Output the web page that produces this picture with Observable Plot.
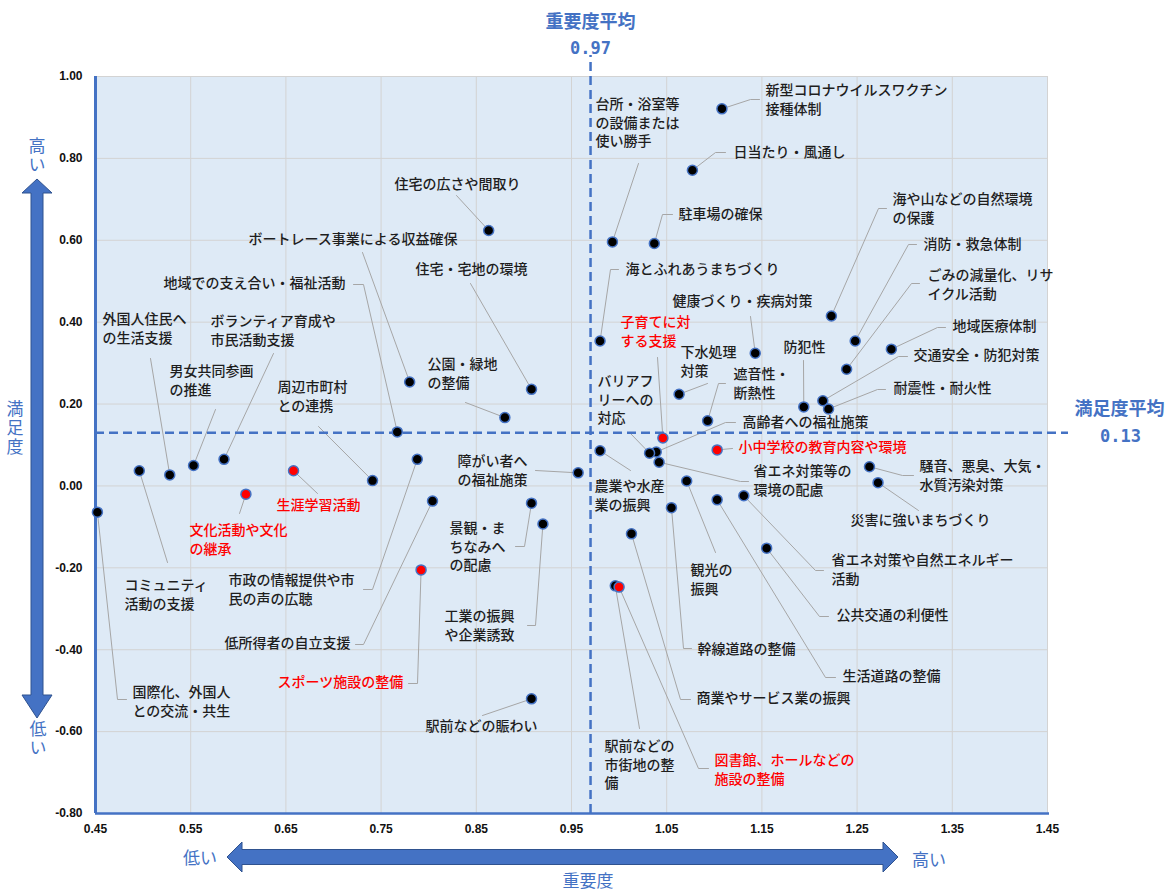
<!DOCTYPE html>
<html>
<head>
<meta charset="utf-8">
<script src="https://cdn.jsdelivr.net/npm/d3@7"></script>
<script src="https://cdn.jsdelivr.net/npm/@observablehq/plot@0.6"></script>
<style>
  body { margin: 0; background: #fff; }
  #chart svg { display: block; }
  g[aria-label="x-axis tick label"] text, g[aria-label="y-axis tick label"] text { font-weight: bold; }
</style>
</head>
<body>
<div id="chart"></div>
<script>
// ---------------- DATA ----------------
const names = [
  "新型コロナウイルスワクチン\n接種体制",
  "日当たり・風通し",
  "台所・浴室等\nの設備または\n使い勝手",
  "駐車場の確保",
  "住宅の広さや間取り",
  "海とふれあうまちづくり",
  "健康づくり・疾病対策",
  "海や山などの自然環境\nの保護",
  "消防・救急体制",
  "ごみの減量化、リサ\nイクル活動",
  "地域医療体制",
  "交通安全・防犯対策",
  "耐震性・耐火性",
  "防犯性",
  "遮音性・\n断熱性",
  "下水処理\n対策",
  "高齢者への福祉施策",
  "小中学校の教育内容や環境",
  "子育てに対\nする支援",
  "バリアフ\nリーへの\n対応",
  "省エネ対策等の\n環境の配慮",
  "騒音、悪臭、大気・\n水質汚染対策",
  "災害に強いまちづくり",
  "省エネ対策や自然エネルギー\n活動",
  "公共交通の利便性",
  "生活道路の整備",
  "農業や水産\n業の振興",
  "観光の\n振興",
  "幹線道路の整備",
  "商業やサービス業の振興",
  "駅前などの\n市街地の整\n備",
  "図書館、ホールなどの\n施設の整備",
  "住宅・宅地の環境",
  "ボートレース事業による収益確保",
  "地域での支え合い・福祉活動",
  "外国人住民へ\nの生活支援",
  "ボランティア育成や\n市民活動支援",
  "男女共同参画\nの推進",
  "周辺市町村\nとの連携",
  "公園・緑地\nの整備",
  "障がい者へ\nの福祉施策",
  "生涯学習活動",
  "文化活動や文化\nの継承",
  "コミュニティ\n活動の支援",
  "市政の情報提供や市\n民の声の広聴",
  "低所得者の自立支援",
  "スポーツ施設の整備",
  "国際化、外国人\nとの交流・共生",
  "景観・ま\nちなみへ\nの配慮",
  "工業の振興\nや企業誘致",
  "駅前などの賑わい"
];
// 重要度 (importance)
const importance = [
  1.108, 1.077, 0.993, 1.037, 0.863, 0.980, 1.143, 1.223, 1.248, 1.239,
  1.286, 1.214, 1.220, 1.194, 1.093, 1.063, 1.039, 1.103, 1.046, 1.032,
  1.042, 1.263, 1.272, 1.131, 1.155, 1.103, 0.980, 1.071, 1.055, 1.013,
  0.996, 1.000, 0.908, 0.780, 0.767, 0.528, 0.585, 0.553, 0.741, 0.880,
  0.957, 0.658, 0.608, 0.496, 0.788, 0.804, 0.792, 0.452, 0.908, 0.920,
  0.908
];
// 満足度 (satisfaction)
const satisfaction = [
  0.921, 0.771, 0.596, 0.592, 0.624, 0.354, 0.324, 0.415, 0.354, 0.285,
  0.334, 0.208, 0.188, 0.193, 0.159, 0.224, 0.083, 0.088, 0.117, 0.080,
  0.058, 0.047, 0.008, -0.024, -0.152, -0.034, 0.086, 0.012, -0.053, -0.117,
  -0.244, -0.247, 0.236, 0.254, 0.132, 0.027, 0.065, 0.050, 0.013, 0.167,
  0.032, 0.037, -0.020, 0.037, 0.065, -0.037, -0.205, -0.064, -0.042, -0.093,
  -0.520
];
// highlighted items (red)
const highlighted = [
  "小中学校の教育内容や環境", "子育てに対\nする支援", "図書館、ホールなどの\n施設の整備",
  "生涯学習活動", "文化活動や文化\nの継承", "スポーツ施設の整備"
];
const avgImportance = 0.97;
const avgSatisfaction = 0.13;
const xTicks = [0.45, 0.55, 0.65, 0.75, 0.85, 0.95, 1.05, 1.15, 1.25, 1.35, 1.45];
const yTicks = [1.0, 0.8, 0.6, 0.4, 0.2, 0.0, -0.2, -0.4, -0.6, -0.8];

// ---------------- LAYOUT (pixels) ----------------
const W = 1167, H = 891;
const M = {top: 76, right: 120, bottom: 78, left: 95};
const xPx = d3.scaleLinear([0.45, 1.45], [M.left, W - M.right]);
const yPx = d3.scaleLinear([-0.8, 1.0], [H - M.bottom, M.top]);
const LH = 18.5;
// [text left x, first line centre y, leader points from label toward the dot]
const labelLayout = [
  [765, 91, [[759, 99], [750, 99]]],
  [733, 153, [[725, 152], [715, 152]]],
  [595, 105, [[638, 163]]],
  [678, 215, [[672, 214], [662, 214]]],
  [394, 185, [[456, 195]]],
  [625, 270, [[618, 269], [610, 269]]],
  [672, 302, [[750, 316]]],
  [892, 200, [[886, 208], [878, 208]]],
  [923, 245, [[916, 244], [908, 244]]],
  [927, 276, [[919, 283], [911, 283]]],
  [952, 327, [[945, 327], [937, 327]]],
  [913, 356, [[907, 356], [898, 356]]],
  [893, 389, [[885, 389], [877, 389]]],
  [783, 348, [[803, 360]]],
  [733, 375, [[725, 383], [718, 383]]],
  [680, 353, [[707, 383]]],
  [742, 423, [[735, 422], [725, 422]]],
  [738, 448, [[732, 448]]],
  [620, 323, [[657, 357]]],
  [597, 382, [[630, 433]]],
  [753, 472, [[748, 481], [740, 481]]],
  [919, 467, [[913, 475], [902, 475]]],
  [850, 521, [[918, 510]]],
  [831, 561, [[823, 570], [815, 570]]],
  [836, 616, [[828, 616], [819, 616]]],
  [842, 677, [[835, 677], [825, 677]]],
  [594, 487, [[630, 470]]],
  [690, 571, [[715, 552]]],
  [697, 650, [[691, 648], [683, 648]]],
  [696, 699, [[690, 699], [680, 699]]],
  [604, 747, [[639, 728]]],
  [714, 761, [[708, 768], [698, 768]]],
  [415, 270, [[470, 283]]],
  [248, 240, [[362, 252]]],
  [163, 284, [[353, 284], [363, 284]]],
  [102, 320, [[150, 358]]],
  [210, 322, [[273, 353]]],
  [169, 372, [[215, 409]]],
  [277, 388, [[318, 426]]],
  [427, 365, [[465, 402]]],
  [457, 462, [[535, 470]]],
  [276, 506, [[317, 493]]],
  [189, 531, [[239, 513]]],
  [124, 586, [[167, 562]]],
  [228, 581, [[363, 589], [372, 589]]],
  [224, 644, [[355, 644], [363, 644]]],
  [277, 683, [[408, 683], [417, 683]]],
  [132, 693, [[126, 699], [117, 699]]],
  [449, 529, [[515, 546], [524, 546]]],
  [444, 617, [[527, 625], [535, 625]]],
  [425, 727, [[482, 715]]]
];
const TEXT_SHIFT = -2; // small vertical correction for CJK glyph centring

// ---------------- BUILD ----------------
const points = names.map((n, i) => ({
  name: n, x: importance[i], y: satisfaction[i], red: highlighted.includes(n)
}));
const labels = points.map((p, i) => {
  const [tx, ty] = labelLayout[i];
  const n = p.name.split("\n").length;
  return {text: p.name, x: xPx.invert(tx), y: yPx.invert(ty + TEXT_SHIFT + (n - 1) * LH / 2), red: p.red};
});
const leaders = [];
points.forEach((p, i) => {
  labelLayout[i][2].forEach(([lx, ly]) => leaders.push({i, x: xPx.invert(lx), y: yPx.invert(ly)}));
  leaders.push({i, x: p.x, y: p.y});
});

const BLUE = "#4472C4";
const FONT = "'Noto Sans CJK JP', 'Noto Sans', sans-serif";
const MONO = "'DejaVu Sans Mono', monospace";

const plot = Plot.plot({
  width: W, height: H,
  marginTop: M.top, marginRight: M.right, marginBottom: M.bottom, marginLeft: M.left,
  x: {domain: [0.45, 1.45]},
  y: {domain: [-0.8, 1.0]},
  style: {fontFamily: FONT, fontSize: "14px", color: "#222", background: "#fff"},
  marks: [
    Plot.frame({fill: "#DEEAF6", stroke: null}),
    Plot.gridX(xTicks, {stroke: "#D3D3D3", strokeOpacity: 1, strokeWidth: 1}),
    Plot.gridY(yTicks, {stroke: "#D3D3D3", strokeOpacity: 1, strokeWidth: 1}),
    Plot.frame({stroke: "#D3D3D3", strokeWidth: 1}),
    Plot.ruleX([0.45], {stroke: BLUE, strokeWidth: 3}),
    Plot.ruleY([-0.8], {x1: 0.45, x2: xPx.invert(1049), stroke: BLUE, strokeWidth: 2.5}),
    Plot.line(leaders, {x: "x", y: "y", z: "i", stroke: "#A6A6A6", strokeWidth: 1, curve: "linear"}),
    Plot.ruleX([avgImportance], {y1: -0.8, y2: yPx.invert(55), stroke: BLUE, strokeWidth: 2.5, strokeDasharray: "9,5"}),
    Plot.ruleY([avgSatisfaction], {x1: 0.45, x2: xPx.invert(1068), stroke: BLUE, strokeWidth: 2.5, strokeDasharray: "9,5"}),
    Plot.dot(points, {x: "x", y: "y", r: 5, fill: d => d.red ? "#FF0000" : "#000000", stroke: BLUE, strokeWidth: 1.5}),
    Plot.text(labels, {x: "x", y: "y", text: "text", textAnchor: "start", lineAnchor: "middle",
      lineHeight: LH / 14, fontSize: 14, fontWeight: 500, fill: d => d.red ? "#FF0000" : "#1E1E1E"}),
    Plot.axisX(xTicks, {tickSize: 0, tickPadding: 11, tickFormat: d => d.toFixed(2), label: null,
      fontSize: 12, fontFamily: "'Liberation Sans', sans-serif", fill: "#111"}),
    Plot.axisY(yTicks, {tickSize: 0, tickPadding: 13, tickFormat: d => d.toFixed(2), label: null,
      fontSize: 12, fontFamily: "'Liberation Sans', sans-serif", fill: "#111"}),
    Plot.text(["重要度平均"], {x: [avgImportance], frameAnchor: "top", dy: -61, fontSize: 18, fontWeight: "bold", fill: BLUE}),
    Plot.text(["0.97"], {x: [avgImportance], frameAnchor: "top", dy: -35, fontSize: 17, fontWeight: "bold", fill: BLUE, fontFamily: MONO, letterSpacing: "-0.5px"}),
    Plot.text(["満足度平均"], {y: [avgSatisfaction], frameAnchor: "right", textAnchor: "middle", dx: 72, dy: -23, fontSize: 18, fontWeight: "bold", fill: BLUE}),
    Plot.text(["0.13"], {y: [avgSatisfaction], frameAnchor: "right", textAnchor: "middle", dx: 73, dy: 4, fontSize: 17, fontWeight: "bold", fill: BLUE, fontFamily: MONO, letterSpacing: "-0.5px"})
  ]
});

// ---------------- DECORATIONS (arrows & axis words) ----------------
const svg = d3.select(plot);
const deco = svg.append("g").attr("aria-label", "axis arrows");
deco.append("path")
  .attr("d", "M37,179 L52,193 L43,193 L43,695 L52,695 L37,718 L22,695 L31,695 L31,193 L22,193 Z")
  .attr("fill", BLUE).attr("stroke", "#2F528F").attr("stroke-width", 1);
deco.append("path")
  .attr("d", "M227,857 L242,842 L242,849.5 L883,849.5 L883,842 L898,857 L883,872 L883,864.5 L242,864.5 L242,872 Z")
  .attr("fill", BLUE).attr("stroke", "#2F528F").attr("stroke-width", 1);
// vertical words (one text element each, written top-to-bottom)
const vwords = [["高い", 37, 156], ["満足度", 15, 429], ["低い", 38, 739]];
deco.selectAll("text.v").data(vwords).join("text")
  .attr("class", "v")
  .attr("x", d => d[1]).attr("y", d => d[2])
  .attr("text-anchor", "middle")
  .style("writing-mode", "vertical-rl")
  .attr("letter-spacing", 2)
  .attr("font-family", FONT).attr("font-size", 17).attr("fill", BLUE)
  .text(d => d[0]);
const hwords = [["低い", 200, 856], ["高い", 929, 858], ["重要度", 588, 879]];
deco.selectAll("text.h").data(hwords).join("text")
  .attr("class", "h")
  .attr("x", d => d[1]).attr("y", d => d[2])
  .attr("text-anchor", "middle").attr("dominant-baseline", "central")
  .attr("font-family", FONT).attr("font-size", 17).attr("fill", BLUE)
  .text(d => d[0]);

document.getElementById("chart").appendChild(plot);
</script>
</body>
</html>
